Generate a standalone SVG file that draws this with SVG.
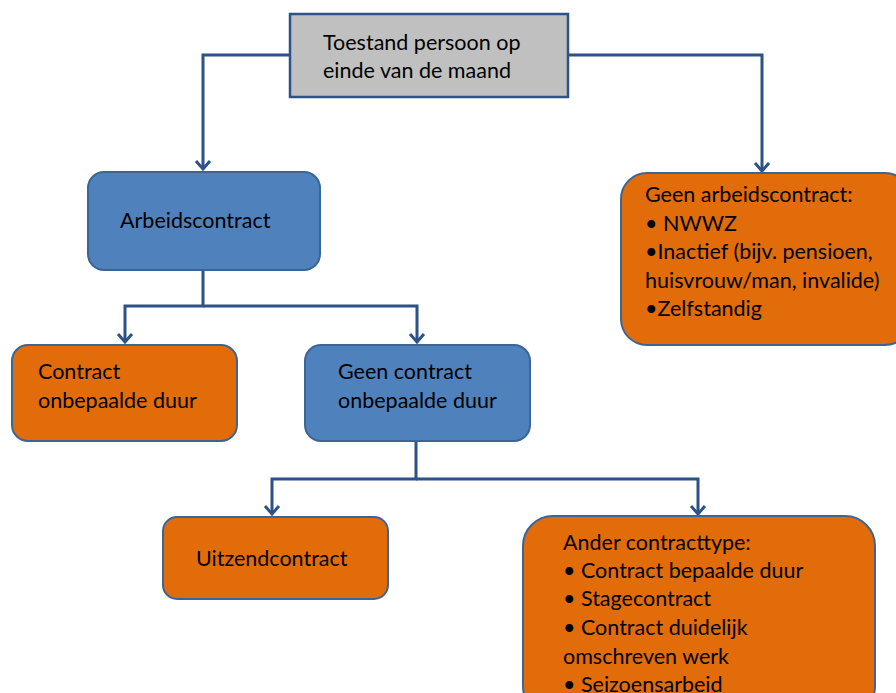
<svg xmlns="http://www.w3.org/2000/svg" width="896" height="693" viewBox="0 0 896 693">
<defs>
<marker id="arr" markerUnits="userSpaceOnUse" markerWidth="20" markerHeight="20" refX="10" refY="10" orient="auto">
<path d="M2,3 L10,10 L2,17" fill="none" stroke="#2c5287" stroke-width="3"/>
</marker>
<style>
.t{font-family:Lato,"Liberation Sans",sans-serif;font-size:21.5px;fill:#000}
.blue{fill:#4f81bd;stroke:#3a6696;stroke-width:2}
.orange{fill:#e36c0a;stroke:#3a6696;stroke-width:2}
.gray{fill:#c0c0c0;stroke:#2c5287;stroke-width:2.5}
.c{fill:none;stroke:#2c5287;stroke-width:3}
</style>
</defs>
<rect width="896" height="693" fill="#fff"/>
<g id="connectors">
<path class="c" d="M290,55 H203 V169" marker-end="url(#arr)"/>
<path class="c" d="M568,55 H762 V171" marker-end="url(#arr)"/>
<path class="c" d="M203,270 V306 H125 V342" marker-end="url(#arr)"/>
<path class="c" d="M203,306 H417 V342" marker-end="url(#arr)"/>
<path class="c" d="M416,441 V479 H272 V514" marker-end="url(#arr)"/>
<path class="c" d="M416,479 H698 V514" marker-end="url(#arr)"/>
</g>
<g id="toestand">
<rect class="gray" x="290" y="14" width="278" height="83"/>
<text class="t" x="323" y="50">Toestand persoon op</text>
<text class="t" x="323" y="78">einde van de maand</text>
</g>
<g id="arbeidscontract">
<rect class="blue" x="88" y="172" width="232" height="98" rx="16"/>
<text class="t" x="120" y="228">Arbeidscontract</text>
</g>
<g id="geen-arbeidscontract">
<rect class="orange" x="621" y="173" width="290" height="172" rx="26"/>
<text class="t" x="645" y="202">Geen arbeidscontract:</text>
<text class="t" x="645" y="231">• NWWZ</text>
<text class="t" x="645" y="259">•Inactief (bijv. pensioen,</text>
<text class="t" x="645" y="288">huisvrouw/man, invalide)</text>
<text class="t" x="645" y="316">•Zelfstandig</text>
</g>
<g id="contract-onbepaald">
<rect class="orange" x="12" y="345" width="225" height="96" rx="16"/>
<text class="t" x="38" y="379">Contract</text>
<text class="t" x="38" y="408">onbepaalde duur</text>
</g>
<g id="geen-contract-onbepaald">
<rect class="blue" x="305" y="345" width="225" height="96" rx="16"/>
<text class="t" x="338" y="379">Geen contract</text>
<text class="t" x="338" y="408">onbepaalde duur</text>
</g>
<g id="uitzendcontract">
<rect class="orange" x="163" y="517" width="225" height="82" rx="14"/>
<text class="t" x="196" y="566">Uitzendcontract</text>
</g>
<g id="ander-contracttype">
<rect class="orange" x="523" y="516" width="352" height="200" rx="30"/>
<text class="t" x="563" y="550">Ander contracttype:</text>
<text class="t" x="563" y="578">• Contract bepaalde duur</text>
<text class="t" x="563" y="606">• Stagecontract</text>
<text class="t" x="563" y="635">• Contract duidelijk</text>
<text class="t" x="563" y="664">omschreven werk</text>
<text class="t" x="563" y="692">• Seizoensarbeid</text>
</g>
</svg>
